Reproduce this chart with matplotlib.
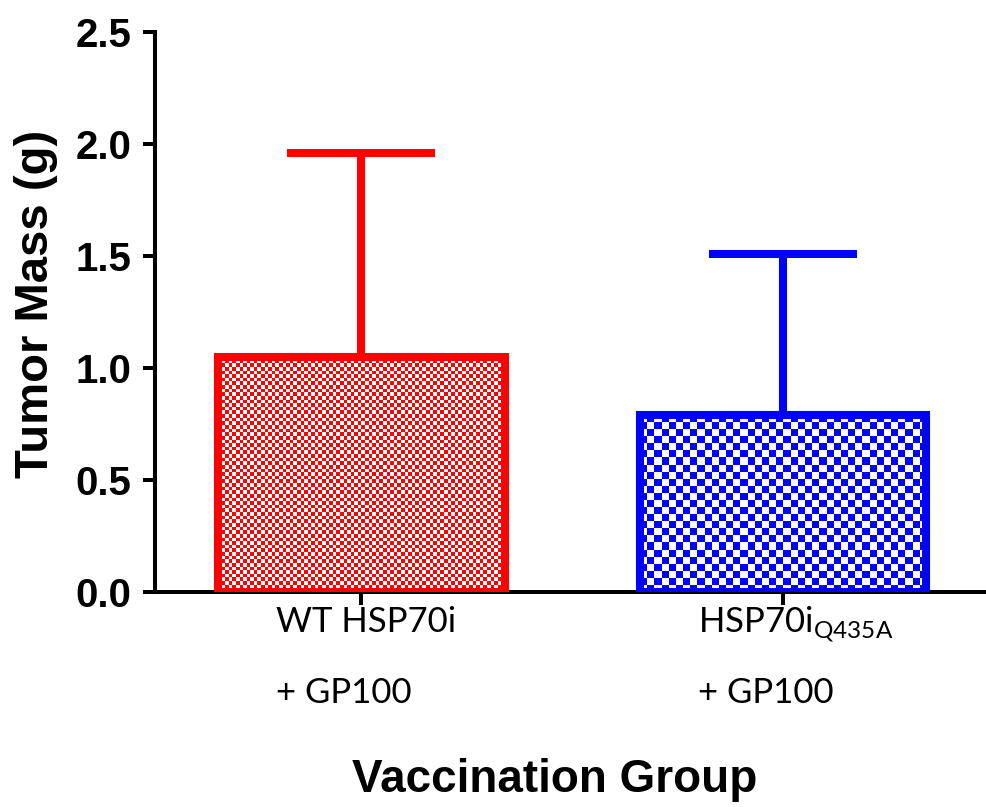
import numpy as np
import matplotlib.pyplot as plt
from matplotlib.colors import ListedColormap
from matplotlib.transforms import blended_transform_factory, ScaledTranslation

# Daten
groups = ["WT HSP70i", "HSP70i$_{\\mathregular{Q435A}}$"]
groups_line2 = ["+ GP100", "+ GP100"]
means = [1.05, 0.79]
errors = [0.91, 0.72]
colors = ["#ff0000", "#0000ff"]
cell_px = [3.6, 7.2]   # Groesse der Karo-Felder in Pixel

fig = plt.figure(figsize=(9.87, 8.07), dpi=100)
ax = fig.add_axes([0.157, 0.2664, 0.841, 0.694])

x = np.arange(len(groups))
ax.set_xlim(-0.49, 1.48)
ax.set_ylim(0, 2.5)

bars = ax.bar(x, means, width=0.68, color="none", edgecolor=colors,
              linewidth=5.8, zorder=3)

# Karomuster in die Balken legen
for bar, col, cpx in zip(bars, colors, cell_px):
    x0, y0 = bar.get_x(), bar.get_y()
    w, h = bar.get_width(), bar.get_height()
    p0 = ax.transData.transform((x0, y0))
    p1 = ax.transData.transform((x0 + w, y0 + h))
    nx = int(round((p1[0] - p0[0]) / cpx))
    ny = int(round((p1[1] - p0[1]) / cpx))
    board = (np.add.outer(np.arange(ny), np.arange(nx)) % 2).astype(float)
    ax.imshow(board, extent=(x0, x0 + w, y0, y0 + h),
              cmap=ListedColormap(["white", col]),
              interpolation="nearest", aspect="auto", zorder=2)

for xi, m, e, col in zip(x, means, errors, colors):
    ax.errorbar(xi, m, yerr=[[0], [e]], color=col, elinewidth=5.8,
                capsize=53, capthick=5.8, zorder=4)

ax.set_xlim(-0.49, 1.48)
ax.set_ylim(0, 2.5)

# Achsen
for s in ["top", "right"]:
    ax.spines[s].set_visible(False)
ax.spines["left"].set_linewidth(2.9)
ax.spines["bottom"].set_linewidth(2.9)
ax.tick_params(axis="both", width=2.9, length=9)
ax.tick_params(axis="y", pad=8)

ax.set_yticks([0.0, 0.5, 1.0, 1.5, 2.0, 2.5])
ax.set_yticklabels(["0.0", "0.5", "1.0", "1.5", "2.0", "2.5"],
                   fontsize=29, fontweight="bold", family="Liberation Sans")

# Gruppenbeschriftung (linksbuendig, zwei Zeilen)
ax.set_xticks(x)
ax.set_xticklabels([])
trans = blended_transform_factory(ax.transData, ax.transAxes)
shift = ScaledTranslation(-85 / 100, 0, fig.dpi_scale_trans)
for xi, l1, l2 in zip(x, groups, groups_line2):
    ax.text(xi, -40 / 560, l1, transform=trans + shift, ha="left",
            va="baseline", fontsize=25, family="Lato")
    ax.text(xi, -111 / 560, l2, transform=trans + shift, ha="left",
            va="baseline", fontsize=25, family="Lato")

ax.set_ylabel("Tumor Mass (g)", fontsize=34, fontweight="bold",
              family="Liberation Sans")
ax.yaxis.set_label_coords(-0.117, 0.515)
ax.set_xlabel("Vaccination Group", fontsize=33, fontweight="bold",
              family="Liberation Sans")
ax.xaxis.set_label_coords(0.482, -0.297)

fig.savefig("out.png", dpi=100)
